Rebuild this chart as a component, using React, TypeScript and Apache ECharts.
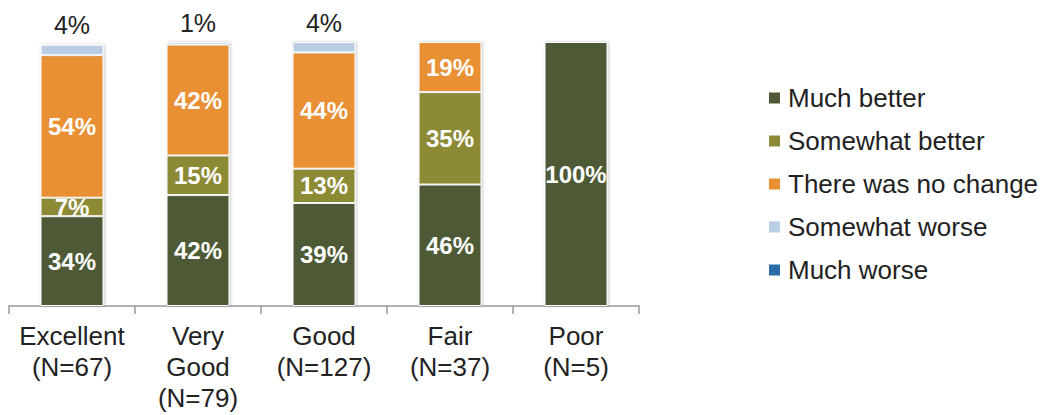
import React, { useEffect, useRef } from "react";
import * as echarts from "echarts";

const categories = ["Excellent\n(N=67)", "Very\nGood\n(N=79)", "Good\n(N=127)", "Fair\n(N=37)", "Poor\n(N=5)"];
const seriesNames = ["Much better", "Somewhat better", "There was no change", "Somewhat worse", "Much worse"];
const muchBetter = [34, 42, 39, 46, 100];
const somewhatBetter = [7, 15, 13, 35, 0];
const noChange = [54, 42, 44, 19, 0];
const somewhatWorse = [4, 1, 4, 0, 0];
const muchWorse = [0, 0, 0, 0, 0];
const colors = ["#4E5A36", "#8C8A36", "#E99034", "#B9CDE3", "#2A6CA8"];

const FONT = "'Liberation Sans', Arial, sans-serif";

export default function App() {
  const ref = useRef<HTMLDivElement>(null);
  useEffect(() => {
    if (!ref.current) return;
    const chart = echarts.init(ref.current, undefined, { renderer: "svg" });
    const data = [muchBetter, somewhatBetter, noChange, somewhatWorse, muchWorse];
    const series = data.map((vals, i) => {
      const outside = i === 3;
      return {
        name: seriesNames[i],
        type: "bar",
        stack: "total",
        barWidth: "50%",
        data: vals,
        itemStyle: {
          color: colors[i],
          borderColor: "#ffffff",
          borderWidth: 1,
          shadowBlur: 3,
          shadowColor: "rgba(0,0,0,0.25)",
          shadowOffsetX: 1,
          shadowOffsetY: 0,
        },
        label: {
          show: true,
          position: outside ? "top" : "inside",
          distance: 7,
          color: outside ? "#222222" : "#ffffff",
          fontWeight: outside ? "normal" : "bold",
          fontSize: outside ? 25 : 24,
          fontFamily: FONT,
          formatter: (p: any) => (p.value > 0 ? p.value + "%" : ""),
        },
      };
    });
    chart.setOption({
      animation: false,
      textStyle: { fontFamily: FONT },
      grid: { left: 9, right: 408, top: 42, bottom: 109, containLabel: false },
      legend: {
        orient: "vertical",
        left: 767,
        top: 85,
        padding: 0,
        itemWidth: 13,
        itemHeight: 13,
        itemGap: 17,
        icon: "rect",
        data: seriesNames,
        textStyle: { fontSize: 26, lineHeight: 26, color: "#222222", fontFamily: FONT, padding: [0, 0, 0, 2] },
      },
      xAxis: {
        type: "category",
        data: categories,
        axisLine: { show: true, lineStyle: { color: "#9a9a9a", width: 1.5 } },
        axisTick: { show: true, length: 8, lineStyle: { color: "#9a9a9a", width: 1.5 } },
        axisLabel: { fontSize: 26, color: "#222222", lineHeight: 31, margin: 14, fontFamily: FONT, interval: 0 },
      },
      yAxis: {
        type: "value",
        min: 0,
        max: 100,
        show: false,
        splitLine: { show: false },
      },
      series,
    });
    return () => chart.dispose();
  }, []);
  return <div ref={ref} style={{ position: "fixed", left: 0, top: 0, width: 1047, height: 415, background: "#fff" }} />;
}
